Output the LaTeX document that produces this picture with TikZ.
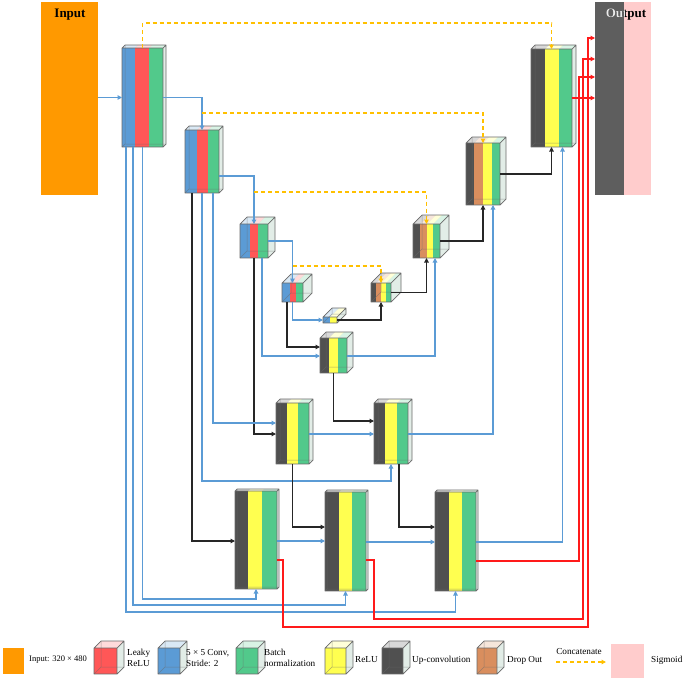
\documentclass[tikz,border=0pt]{standalone}
\usepackage{fontspec}
\setmainfont{Liberation Serif}
\usetikzlibrary{arrows.meta,fit,calc}
\definecolor{cB}{HTML}{5B9BD5}
\definecolor{cR}{HTML}{FF5757}
\definecolor{cG}{HTML}{52C98B}
\definecolor{cY}{HTML}{FFFF50}
\definecolor{cK}{HTML}{505050}
\definecolor{cN}{HTML}{D98E5E}
\definecolor{cO}{HTML}{FF9900}
\definecolor{cP}{HTML}{FFCCCC}
\definecolor{cGr}{HTML}{5E5E5E}
\definecolor{cDash}{HTML}{FFC000}
\definecolor{cLine}{HTML}{5B9BD5}
\definecolor{cRed}{HTML}{FF1A1A}
\definecolor{cFace}{HTML}{E2EDE7}
\definecolor{cEdge}{HTML}{6A6A6A}
\newcommand\Blk[7]{%
 \fill[cFace] (#4,#3) -- (#4+#6,#3-#6) -- (#4+#6,#5-#6) -- (#4,#5) -- cycle;
 \fill[white] (#2,#3) -- (#2+#6,#3-#6) -- (#4+#6,#3-#6) -- (#4,#3) -- cycle;
 \foreach \a/\b/\c in {#7}{%
   \fill[\c,opacity=.22] (\a,#3) -- (\a+#6,#3-#6) -- (\b+#6,#3-#6) -- (\b,#3) -- cycle;
   \fill[\c] (\a,#3) rectangle (\b,#5);}
 \draw[cEdge,line width=.5pt,opacity=.55] (#2,#5) -- (#2+#6,#5-#6) -- (#4+#6,#5-#6) (#2+#6,#5-#6) -- (#2+#6,#3-#6);
 \draw[cEdge,line width=.7pt,line join=round] (#2,#3) rectangle (#4,#5) (#2,#3) -- (#2+#6,#3-#6) -- (#4+#6,#3-#6) -- (#4+#6,#5-#6) -- (#4,#5) (#4,#3) -- (#4+#6,#3-#6);
 \node[inner sep=0pt,outer sep=0pt,fit={(#2,#3) (#4,#5)}] (#1) {};
}
\tikzset{
 con/.style={line width=1.1pt},
 bl/.style={con,draw=cLine},
 bk/.style={con,draw=black!85},
 rd/.style={con,draw=cRed},
 cat/.style={con,draw=cDash,dash pattern=on 4pt off 3pt},
 arr/.style={-{Triangle[length=4.5pt,width=4.5pt]}},
 ttl/.style={font=\bfseries\fontsize{13}{15}\selectfont,inner sep=0pt},
 lg/.style={font=\fontsize{9.2}{10.5}\selectfont,inner sep=0pt,anchor=west,align=left},
 box/.style={inner sep=0pt,outer sep=0pt},
}
\begin{document}
\begin{tikzpicture}[x=1pt,y=-1pt]
\useasboundingbox (0,0) rectangle (685,681);
% input / output
\node[box,fill=cO,fit={(41,2) (98,195)}] (In) {};
\node[ttl] (inT) at (70,15) {Input};
\fill[cGr] (595,2) rectangle (624,195);
\fill[cP] (624,2) rectangle (651,195);
\node[box,fit={(595,2) (651,195)}] (Out) {};
\node[ttl] (outT) at (626,15) {Output};
\begin{scope}
\clip (595,2) rectangle (624,195);
\node[ttl,text=white!92!black] (outW) at (626,15) {Output};
\end{scope}
% blocks
\Blk{E1}{122}{48}{163}{147}{3}{122/135/cB,135/149/cR,149/163/cG}
\Blk{E2}{185}{130}{219}{193}{4}{185/197/cB,197/208/cR,208/219/cG}
\Blk{E3}{240}{224}{268}{258}{7}{240/250/cB,250/258/cR,258/268/cG}
\Blk{E4}{282}{283}{303}{302}{9}{282/290/cB,290/296/cR,296/303/cG}
\Blk{B}{323}{317}{337}{323}{9}{323/330/cB,330/337/cY}
\Blk{D4}{371}{283}{391}{302}{10}{371/376/cK,376/381/cN,381/386/cY,386/391/cG}
\Blk{D3}{413}{224}{440}{258}{9}{413/420/cK,420/427/cN,427/433/cY,433/440/cG}
\Blk{D2}{466}{143}{500}{205}{6}{466/474/cK,474/483/cN,483/492/cY,492/500/cG}
\Blk{D1}{531}{49}{572}{147}{4}{531/545/cK,545/559/cY,559/572/cG}
\Blk{M0}{320}{338}{347}{373}{6}{320/329/cK,329/338/cY,338/347/cG}
\Blk{R2a}{276}{403}{309}{464}{4}{276/287/cK,287/298/cY,298/309/cG}
\Blk{R2b}{374}{403}{408}{464}{4}{374/385/cK,385/397/cY,397/408/cG}
\Blk{R3a}{235}{491}{277}{589}{2}{235/248/cK,248/262/cY,262/277/cG}
\Blk{R3b}{325}{492}{366}{591}{2}{325/339/cK,339/352/cY,352/366/cG}
\Blk{R3c}{435}{492}{476}{591}{2}{435/449/cK,449/462/cY,462/476/cG}
% encoder path
\draw[bl,arr] (In.east |- E1.west) -- (E1.west);
\draw[bl,arr] (E1.east) -| (E2.north);
\draw[bl,arr] (E2.east |- 0,176) -| (E3.north);
\draw[bl,arr] (E3.east) -| (E4.north);
\draw[bl,arr] (E4.south) |- (B.west);
% concatenations
\draw[cat,arr] (E1.north) -- (E1.north |- 0,23) -| (D1.north);
\draw[cat,arr] (E2.north |- 0,113) -| (D2.north);
\draw[cat,arr] (E3.north |- 0,192) -| (D3.north);
\draw[cat,arr] (E4.north |- 0,266) -| (D4.north);
% decoder path
\draw[bk,arr] (B.east) -| (D4.south);
\draw[bk,arr] (D4.east) -| (D3.south);
\draw[bk,arr] (D3.east) -| (D2.south);
\draw[bk,arr] (D2.east) -| (D1.south);
\draw[rd,arr] (D1.east) -- (D1.east -| Out.west);
% middle
\draw[bk,arr] ([xshift=5pt]E4.south west) |- (M0.west |- 0,347);
\draw[bl,arr] ([xshift=22pt]E3.south west) |- (M0.west |- 0,356);
\draw[bl,arr] (M0.east |- 0,356) -| ([xshift=22pt]D3.south west);
\draw[bk,arr] (E3.south) |- (R2a.west |- 0,434);
\draw[bl,arr] ([xshift=28pt]E2.south west) |- (R2a.west |- 0,423);
\draw[bk,arr] (M0.south) |- (R2b.west |- 0,421);
\draw[bl,arr] (R2a.east |- 0,434) -- (R2b.west |- 0,434);
\draw[bl,arr] (R2b.east |- 0,434) -| ([xshift=10pt]D2.south);
\draw[bl,arr] (E2.south) |- (R2b.south |- 0,481) -- (R2b.south);
% bottom row
\draw[bk,arr] ([xshift=7pt]E2.south west) |- (R3a.west |- 0,541);
\draw[bk,arr] (R2a.south) |- (R3b.west |- 0,527);
\draw[bk,arr] ([xshift=8pt]R2b.south) |- (R3c.west |- 0,527);
\draw[bl,arr] (R3a.east |- 0,541) -- (R3b.west |- 0,541);
\draw[bl,arr] (R3b.east |- 0,542) -- (R3c.west |- 0,542);
\draw[bl,arr] (R3c.east |- 0,542) -| ([xshift=11pt]D1.south);
\draw[bl,arr] (E1.south) |- (R3a.south |- 0,599) -- (R3a.south);
\draw[bl,arr] ([xshift=11pt]E1.south west) |- (R3b.south |- 0,605) -- (R3b.south);
\draw[bl,arr] ([xshift=4pt]E1.south west) |- (R3c.south |- 0,612) -- (R3c.south);
% outputs to sigmoid
\draw[rd,arr] (R3a.east |- 0,560) -| (283,627) -| (588,38) -- (Out.west |- 0,38);
\draw[rd,arr] (R3b.east |- 0,560) -| (374,619) -| (583,59) -- (Out.west |- 0,59);
\draw[rd,arr] (R3c.east |- 0,561) -| (579,77) -- (Out.west |- 0,77);
% legend
\node[box,fill=cO,fit={(3,648) (24,674)}] (lgIn) {};
\node[lg,font=\fontsize{8.5}{10}\selectfont] (lgInT) at (29,660) {Input: 320 × 480};
\Blk{lgR}{94}{648}{117}{674}{7}{94/117/cR}
\node[lg] (lgRT) at (127,658) {Leaky\\ReLU};
\Blk{lgB}{158}{648}{180}{674}{7}{158/180/cB}
\node[lg] (lgBT) at (186,658) {5 × 5 Conv,\\Stride: 2};
\Blk{lgG}{236}{648}{258}{674}{7}{236/258/cG}
\node[lg] (lgGT) at (264,658) {Batch\\normalization};
\Blk{lgY}{325}{648}{346}{674}{7}{325/346/cY}
\node[lg] (lgYT) at (355,660) {ReLU};
\Blk{lgK}{382}{648}{403}{674}{7}{382/403/cK}
\node[lg] (lgKT) at (412,660) {Up-convolution};
\Blk{lgN}{477}{648}{497}{674}{7}{477/497/cN}
\node[lg] (lgNT) at (507,660) {Drop Out};
\node[lg,anchor=center] (lgCT) at (579,651) {Concatenate};
\coordinate (lgCa) at (556,662);
\coordinate (lgCb) at (606,662);
\draw[cat,arr] (lgCa) -- (lgCb);
\node[box,fill=cP,fit={(611,644) (644,678)}] (lgP) {};
\node[lg] (lgPT) at (651,660) {Sigmoid};
\end{tikzpicture}
\end{document}
